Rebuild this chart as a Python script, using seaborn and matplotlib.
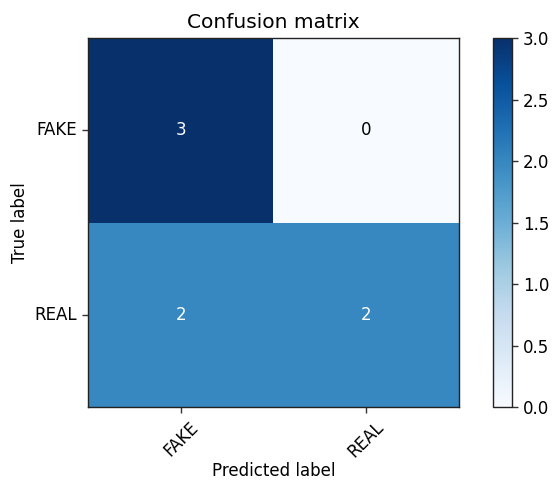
import matplotlib
matplotlib.use("Agg")
import matplotlib.pyplot as plt
import seaborn as sns
import numpy as np
import pandas as pd
from matplotlib.ticker import FormatStrFormatter

classes = ["FAKE", "REAL"]
matrix = [[3, 0],
          [2, 2]]
cbar_ticks = [0.0, 0.5, 1.0, 1.5, 2.0, 2.5, 3.0]

df = pd.DataFrame(matrix, index=classes, columns=classes)

fig = plt.figure(figsize=(5.52, 4.83), dpi=100)
ax = fig.add_axes([0.1594, 0.1573, 0.672, 0.764])
cax = fig.add_axes([0.893, 0.1573, 0.0344, 0.764])

sns.heatmap(df, ax=ax, cbar_ax=cax, cmap="Blues", vmin=0, vmax=3,
            annot=False, square=False)

vals = np.array(matrix)
thresh = vals.max() / 2.0
for i in range(vals.shape[0]):
    for j in range(vals.shape[1]):
        ax.text(j + 0.5, i + 0.5, str(vals[i, j]), ha="center", va="center",
                fontsize=12, color="white" if vals[i, j] > thresh else "black")

for s in ax.spines.values():
    s.set_visible(True)
    s.set_linewidth(1.0)
    s.set_color("#222222")
ax.tick_params(axis="both", length=4.5, width=1.0, labelsize=12, color="#333333")
ax.set_xticklabels(classes, rotation=45)
ax.set_yticklabels(classes, rotation=0)
ax.set_title("Confusion matrix", fontsize=14.5, pad=7)
ax.set_xlabel("Predicted label", fontsize=12, labelpad=1)
ax.set_ylabel("True label", fontsize=12)

cb = ax.collections[0].colorbar
cb.outline.set_visible(True)
cb.outline.set_linewidth(1.0)
cb.outline.set_edgecolor("#222222")
cb.set_ticks(cbar_ticks)
cax.yaxis.set_major_formatter(FormatStrFormatter("%.1f"))
cax.tick_params(length=4.5, width=1.0, labelsize=12, color="#333333")

fig.savefig("out.png", dpi=100)
